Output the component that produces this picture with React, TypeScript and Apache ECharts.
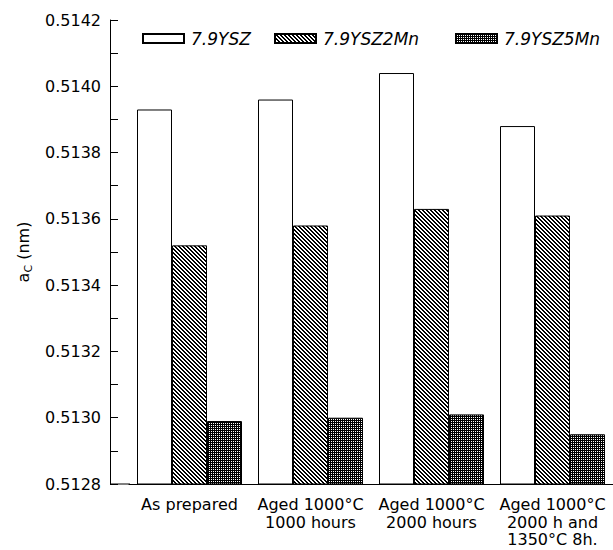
import React, { useEffect, useRef } from "react";
import * as echarts from "echarts";

// Treatment conditions along the x axis
const categories = [
  "As prepared",
  "Aged 1000°C\n1000 hours",
  "Aged 1000°C\n2000 hours",
  "Aged 1000°C\n2000 h and\n1350°C 8h.",
];

// Cubic lattice parameter a_C (nm) for each composition
const seriesNames = ["7.9YSZ", "7.9YSZ2Mn", "7.9YSZ5Mn"];
const ysz = [0.51393, 0.51396, 0.51404, 0.51388];
const ysz2mn = [0.51352, 0.51358, 0.51363, 0.51361];
const ysz5mn = [0.51299, 0.513, 0.51301, 0.51295];

// Y axis range and tick step
const yMin = 0.5128;
const yMax = 0.5142;
const yStep = 0.0002;

const FONT = "'DejaVu Sans', 'Liberation Sans', Arial, sans-serif";

// Builds a small repeating tile for the bar fills
function makeTile(size: number, on: (x: number, y: number) => boolean) {
  const c = document.createElement("canvas");
  c.width = size;
  c.height = size;
  const ctx = c.getContext("2d")!;
  ctx.fillStyle = "#fff";
  ctx.fillRect(0, 0, size, size);
  ctx.fillStyle = "#000";
  for (let y = 0; y < size; y++) {
    for (let x = 0; x < size; x++) {
      if (on(x, y)) ctx.fillRect(x, y, 1, 1);
    }
  }
  return c;
}

export default function App() {
  const ref = useRef<HTMLDivElement>(null);

  useEffect(() => {
    if (!ref.current) return;
    const chart = echarts.init(ref.current, null, { renderer: "svg" });

    // "\\\\" diagonal hatching and a dense dotted crosshatch
    const hatch = makeTile(4, (x, y) => {
      const d = (((x - y) % 4) + 4) % 4;
      return d === 0 || d === 1;
    });
    const cross = makeTile(4, (x, y) => !(x % 2 === 1 && y % 2 === 1));

    const fills: any[] = [
      "#ffffff",
      { image: hatch, repeat: "repeat" },
      { image: cross, repeat: "repeat" },
    ];
    const values = [ysz, ysz2mn, ysz5mn];
    const legendLeft = [137, 269, 450];

    chart.setOption({
      animation: false,
      backgroundColor: "#fff",
      textStyle: { fontFamily: FONT, color: "#000" },
      grid: { left: 129, top: 20, bottom: 66, width: 490, containLabel: false },
      legend: seriesNames.map((name, i) => ({
        data: [name],
        left: legendLeft[i],
        top: 25,
        icon: "rect",
        itemWidth: 41,
        itemHeight: 9,
        selectedMode: false,
        textStyle: {
          fontFamily: FONT,
          fontStyle: "italic",
          fontSize: 17,
          color: "#000",
          padding: [0, 0, 0, 2],
        },
      })),
      xAxis: {
        type: "category",
        data: categories,
        axisLine: { show: true, lineStyle: { color: "#000", width: 1 } },
        axisTick: { show: false },
        axisLabel: {
          color: "#000",
          fontFamily: FONT,
          fontSize: 16,
          lineHeight: 17.5,
          margin: 12,
          interval: 0,
        },
      },
      yAxis: {
        type: "value",
        min: yMin,
        max: yMax,
        interval: yStep,
        offset: 19,
        splitLine: { show: false },
        axisLine: { show: true, lineStyle: { color: "#000", width: 1 } },
        axisTick: { show: true, inside: true, length: 8, lineStyle: { color: "#000" } },
        minorTick: { show: true, splitNumber: 2, length: 8, lineStyle: { color: "#000" } },
        axisLabel: {
          color: "#000",
          fontFamily: FONT,
          fontSize: 16,
          margin: 9,
          formatter: (v: number) => v.toFixed(4),
        },
        name: "{a|a}{s|C}{a| (nm)}",
        nameLocation: "middle",
        nameGap: 76,
        nameRotate: 90,
        nameTextStyle: {
          rich: {
            a: { fontFamily: FONT, fontSize: 16, color: "#000", lineHeight: 22 },
            s: {
              fontFamily: FONT,
              fontSize: 11,
              color: "#000",
              lineHeight: 11,
              verticalAlign: "bottom",
            },
          },
        },
      },
      series: seriesNames.map((name, i) => ({
        name,
        type: "bar",
        data: values[i],
        barWidth: 35,
        barGap: "0%",
        itemStyle: { color: fills[i], borderColor: "#000", borderWidth: 1 },
      })),
      graphic: [
        {
          type: "line",
          shape: { x1: 110, y1: 484, x2: 130, y2: 484 },
          style: { stroke: "#000", lineWidth: 1 },
        },
      ],
    });

    return () => chart.dispose();
  }, []);

  return (
    <div
      ref={ref}
      style={{ position: "absolute", left: 0, top: 0, width: 613, height: 550 }}
    />
  );
}
